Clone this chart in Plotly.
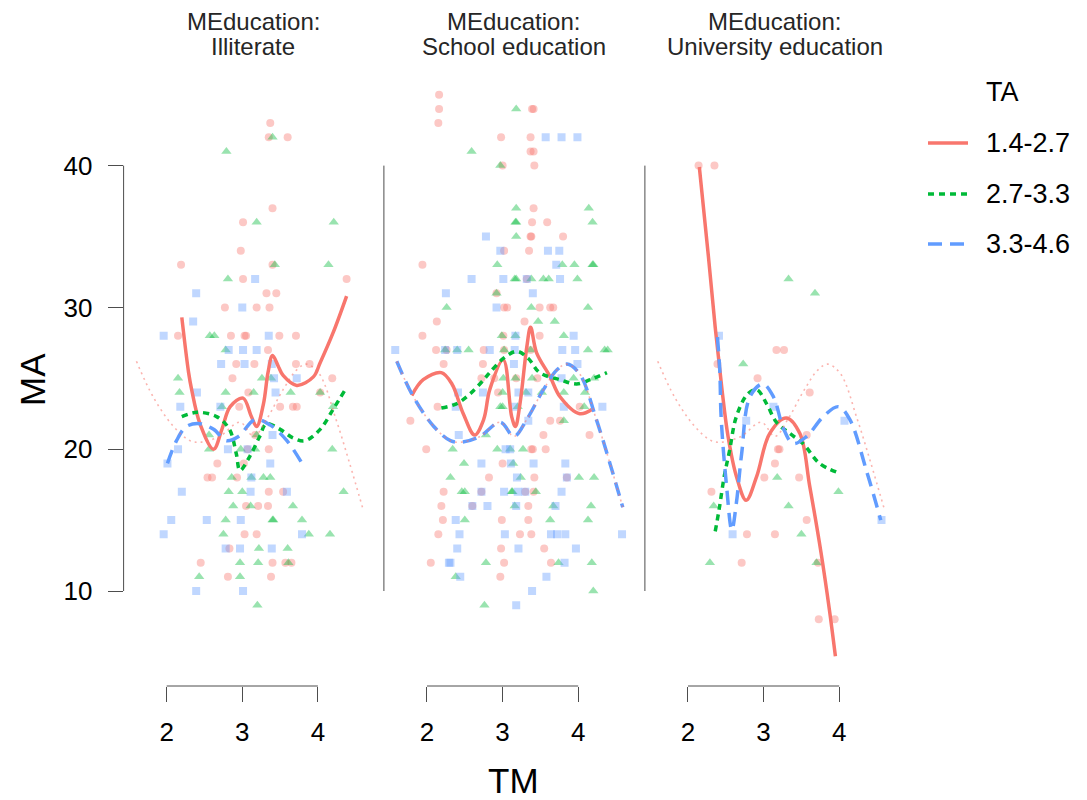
import plotly.graph_objects as go

# ---- palette -------------------------------------------------------------
RED = "#F8766D"
GREEN = "#00BA38"
BLUE = "#619CFF"

PANELS = ["Illiterate", "School education", "University education"]
TA_LEVELS = ["1.4-2.7", "2.7-3.3", "3.3-4.6"]
X_TICKS = [2, 3, 4]
Y_TICKS = [10, 20, 30, 40]

# ---- observations (TM, MA) per MEducation panel and TA class --------------
ILL_LOW = [(3.37, 43), (3.35, 42), (3.60, 42), (3.40, 37), (3.01, 36), (2.98, 34), (2.19, 33),
           (3.40, 33), (3.01, 32), (4.38, 32), (3.32, 31), (3.45, 31), (2.77, 30), (3.19, 30),
           (3.36, 30), (2.15, 28), (2.85, 28), (3.03, 28), (3.05, 28), (3.49, 28), (3.71, 28),
           (3.34, 27), (2.92, 26), (3.16, 26), (3.71, 26), (3.89, 26), (2.87, 25), (4.19, 25),
           (3.08, 24), (4.03, 24), (2.96, 23), (3.50, 23), (3.67, 23), (3.72, 23), (3.17, 21),
           (3.07, 20), (3.35, 20), (2.67, 19), (3.02, 19), (2.54, 18), (2.60, 18), (2.93, 18),
           (3.35, 17), (3.54, 17), (3.05, 16), (3.21, 16), (3.34, 16), (3.03, 14), (3.19, 14),
           (2.83, 13), (2.45, 12), (3.40, 12), (3.57, 12), (3.65, 12), (2.81, 11), (3.38, 11)]
ILL_MID = [(3.40, 42), (2.79, 41), (3.19, 36), (4.21, 36), (3.43, 33), (4.14, 33), (2.81, 32),
           (2.57, 28), (2.63, 28), (2.78, 27), (2.15, 25), (3.26, 25), (3.38, 25), (2.17, 24),
           (2.78, 24), (3.15, 24), (3.64, 24), (4.03, 24), (2.73, 23), (4.20, 23), (2.56, 21),
           (3.19, 21), (2.56, 20), (2.98, 20), (3.17, 20), (4.19, 20), (2.86, 18), (3.12, 18),
           (3.28, 18), (3.37, 18), (2.82, 17), (3.00, 17), (4.34, 17), (2.88, 16), (3.11, 16),
           (3.67, 16), (2.78, 15), (3.40, 15), (3.41, 15), (3.79, 15), (2.75, 14), (3.88, 14),
           (4.16, 14), (3.22, 13), (3.60, 13), (2.97, 12), (3.21, 12), (3.61, 12), (2.43, 11),
           (2.97, 11), (3.20, 9)]
ILL_HIGH = [(3.17, 32), (2.39, 31), (3.00, 30), (2.35, 29), (1.96, 28), (3.35, 28), (2.82, 27),
            (3.01, 27), (3.19, 27), (2.72, 26), (3.03, 26), (3.39, 26), (3.42, 25), (3.72, 25),
            (2.40, 24), (3.44, 24), (2.18, 23), (2.71, 23), (3.40, 21), (2.15, 20), (2.81, 20),
            (3.07, 20), (2.01, 19), (3.37, 19), (3.12, 18), (2.20, 17), (3.11, 17), (3.59, 17),
            (2.06, 15), (2.53, 15), (2.98, 15), (1.96, 14), (3.79, 14), (2.78, 13), (2.97, 13),
            (3.39, 13), (2.39, 10), (3.01, 10)]

SCH_LOW = [(2.16, 45), (2.16, 44), (3.39, 44), (3.41, 44), (2.15, 43), (2.98, 42), (3.37, 42),
           (3.37, 41), (3.41, 41), (3.00, 40), (3.42, 40), (3.41, 37), (3.39, 36), (3.59, 36),
           (3.37, 35), (3.38, 35), (3.80, 35), (3.02, 34), (3.35, 34), (1.94, 33), (3.32, 32),
           (2.92, 31), (3.02, 30), (3.06, 30), (3.49, 30), (3.63, 30), (3.67, 30), (2.13, 29),
           (3.29, 29), (1.94, 28), (3.01, 28), (3.49, 28), (2.12, 27), (2.26, 27), (2.75, 27),
           (3.02, 27), (3.37, 27), (2.22, 26), (2.74, 26), (2.72, 25), (2.89, 25), (3.18, 25),
           (3.46, 25), (2.94, 24), (2.14, 23), (4.02, 23), (1.78, 22), (3.63, 22), (3.76, 22),
           (3.54, 21), (4.15, 21), (1.99, 20), (3.38, 20), (3.40, 20), (3.57, 20), (3.00, 19),
           (2.82, 18), (3.42, 18), (3.85, 18), (2.22, 17), (2.72, 17), (3.30, 17), (3.41, 17),
           (2.19, 16), (2.60, 16), (3.34, 16), (2.21, 15), (2.99, 15), (3.34, 15), (2.15, 14),
           (3.23, 14), (3.38, 14), (2.98, 13), (3.55, 13), (2.05, 12), (3.02, 12), (3.64, 12),
           (2.97, 11)]
SCH_MID = [(3.18, 44), (2.59, 41), (2.97, 40), (3.18, 37), (4.14, 37), (3.17, 36), (3.18, 36),
           (4.19, 36), (3.18, 35), (2.93, 33), (3.79, 33), (3.95, 33), (4.19, 33), (4.20, 33),
           (3.16, 32), (3.18, 32), (3.38, 32), (3.54, 32), (3.61, 32), (3.99, 32), (2.92, 31),
           (2.26, 30), (3.38, 30), (4.13, 30), (3.47, 29), (3.69, 29), (2.99, 28), (3.17, 28),
           (3.81, 28), (2.24, 27), (2.40, 27), (2.55, 27), (3.02, 27), (3.37, 27), (4.13, 27),
           (4.35, 27), (4.39, 27), (3.01, 25), (3.17, 25), (3.39, 25), (3.94, 25), (4.21, 25),
           (3.00, 24), (3.31, 24), (3.52, 24), (3.81, 24), (4.09, 24), (2.97, 23), (3.00, 23),
           (3.20, 23), (4.08, 23), (3.81, 22), (2.78, 21), (2.34, 20), (2.93, 20), (3.10, 20),
           (3.27, 20), (2.49, 19), (3.14, 19), (2.31, 18), (3.24, 18), (4.01, 18), (4.21, 18),
           (2.46, 17), (2.50, 17), (3.12, 17), (3.13, 17), (3.44, 17), (3.16, 16), (3.67, 16),
           (4.17, 16), (2.50, 15), (3.63, 15), (4.13, 15), (2.78, 12), (3.74, 12), (4.18, 12),
           (2.38, 11), (4.20, 10), (2.76, 9)]
SCH_HIGH = [(3.57, 42), (3.78, 42), (3.99, 42), (2.78, 35), (2.97, 34), (3.60, 34), (3.75, 34),
            (3.71, 33), (2.59, 32), (3.01, 32), (3.32, 32), (3.76, 32), (2.25, 31), (3.40, 31),
            (2.92, 30), (3.17, 28), (3.94, 28), (1.58, 27), (2.24, 27), (2.40, 27), (2.83, 27),
            (3.16, 27), (3.79, 27), (3.96, 27), (3.15, 26), (3.99, 26), (3.78, 25), (2.41, 24),
            (2.74, 24), (3.21, 24), (3.34, 24), (2.38, 23), (3.15, 23), (3.81, 23), (4.32, 23),
            (3.34, 22), (2.42, 21), (3.04, 20), (3.10, 20), (2.72, 19), (3.11, 19), (3.41, 19),
            (3.83, 19), (3.19, 18), (3.85, 18), (2.72, 17), (3.02, 17), (3.20, 17), (3.30, 17),
            (3.78, 17), (2.60, 16), (2.80, 16), (3.18, 16), (3.70, 16), (2.38, 15), (2.43, 14),
            (3.03, 14), (3.64, 14), (3.72, 14), (3.83, 14), (4.58, 14), (2.40, 13), (3.21, 13),
            (3.97, 13), (2.29, 12), (2.31, 12), (3.82, 12), (2.44, 11), (3.58, 11), (3.39, 10),
            (3.18, 9)]

UNI_LOW = [(2.14, 40), (2.35, 40), (3.17, 27), (3.27, 27), (2.39, 26), (2.92, 25), (3.61, 24),
           (3.57, 21), (3.19, 20), (3.21, 20), (3.15, 19), (3.01, 18), (3.47, 18), (2.31, 17),
           (3.57, 15), (2.78, 14), (3.15, 14), (2.71, 12), (3.72, 12), (3.73, 8), (3.94, 8)]
UNI_MID = [(3.33, 32), (3.68, 31), (2.73, 26), (3.18, 18), (3.99, 17), (2.34, 16), (3.33, 16),
           (3.50, 14), (2.29, 12), (3.70, 12)]
UNI_HIGH = [(2.41, 28), (3.13, 23), (2.77, 22), (4.07, 22), (4.56, 15), (2.59, 14)]

# ---- smoothed fits (TM, fitted MA) ---------------------------------------
FIT_ILL_LOW = [(2.20, 29.3), (2.29, 25.4), (2.33, 24.2), (2.44, 21.8), (2.62, 20.0), (2.73, 21.4),
               (2.84, 23.0), (3.01, 23.6), (3.12, 22.3), (3.19, 21.6), (3.28, 23.2), (3.34, 25.4),
               (3.40, 26.6), (3.48, 25.8), (3.54, 25.2), (3.72, 24.5), (3.94, 25.1), (4.03, 26.1),
               (4.20, 28.2), (4.38, 30.8)]
FIT_ILL_MID = [(2.20, 22.3), (2.40, 22.6), (2.66, 22.3), (2.83, 21.4), (2.92, 19.7), (2.97, 18.5),
               (3.10, 19.5), (3.23, 20.9), (3.32, 21.8), (3.50, 21.4), (3.67, 20.8), (3.83, 20.6),
               (4.03, 21.4), (4.20, 22.8), (4.35, 24.1)]
FIT_ILL_HIGH = [(2.01, 19.0), (2.13, 20.6), (2.26, 21.6), (2.44, 21.8), (2.62, 21.4), (2.79, 20.6),
                (2.95, 20.9), (3.17, 22.1), (3.37, 21.7), (3.59, 20.6), (3.79, 19.0)]

FIT_SCH_LOW = [(1.80, 23.8), (1.95, 24.9), (2.19, 25.4), (2.33, 24.6), (2.48, 22.5), (2.63, 21.0),
               (2.75, 22.1), (2.83, 24.2), (3.01, 26.3), (3.12, 22.3), (3.17, 21.6), (3.23, 23.2),
               (3.32, 27.2), (3.37, 28.6), (3.45, 26.8), (3.63, 25.1), (3.76, 23.7), (4.02, 22.5),
               (4.18, 22.8)]
FIT_SCH_MID = [(2.19, 22.9), (2.39, 23.2), (2.57, 23.9), (2.75, 24.9), (2.83, 25.4), (3.01, 26.4),
               (3.19, 26.9), (3.34, 26.4), (3.49, 25.4), (3.76, 24.9), (3.98, 24.6), (4.16, 24.9),
               (4.38, 25.4)]
FIT_SCH_HIGH = [(1.60, 26.2), (1.82, 23.7), (2.09, 21.6), (2.31, 20.6), (2.46, 20.5), (2.70, 20.9),
                (2.97, 21.9), (3.15, 20.9), (3.32, 22.1), (3.54, 24.2), (3.72, 25.6), (3.85, 26.0),
                (4.02, 25.3), (4.24, 22.1), (4.42, 19.0), (4.59, 15.9)]

FIT_UNI_LOW = [(2.15, 39.9), (2.27, 33.6), (2.36, 28.6), (2.45, 24.2), (2.53, 20.9), (2.64, 18.1),
               (2.77, 16.4), (2.91, 18.1), (3.08, 21.1), (3.30, 22.2), (3.48, 21.1), (3.61, 17.4),
               (3.76, 12.7), (3.87, 8.7), (3.95, 5.4)]
FIT_UNI_MID = [(2.36, 14.2), (2.41, 15.7), (2.48, 18.1), (2.55, 19.9), (2.64, 22.3), (2.79, 23.9),
               (2.91, 24.2), (3.04, 23.2), (3.17, 21.9), (3.35, 21.1), (3.52, 20.4), (3.74, 19.0),
               (3.96, 18.4)]
FIT_UNI_HIGH = [(2.39, 27.9), (2.42, 25.6), (2.44, 22.1), (2.51, 17.4), (2.58, 14.3), (2.64, 16.2),
                (2.71, 19.7), (2.82, 23.7), (2.99, 24.6), (3.13, 23.7), (3.26, 21.5), (3.39, 20.4),
                (3.57, 20.9), (3.79, 22.3), (3.99, 23.0), (4.14, 22.1), (4.36, 18.5), (4.55, 15.0)]

# pooled fit over every observation, repeated in each panel
FIT_ALL = FIT_SCH_HIGH

POINTS = [[ILL_LOW, ILL_MID, ILL_HIGH],
          [SCH_LOW, SCH_MID, SCH_HIGH],
          [UNI_LOW, UNI_MID, UNI_HIGH]]
FITS = [[FIT_ILL_LOW, FIT_ILL_MID, FIT_ILL_HIGH],
        [FIT_SCH_LOW, FIT_SCH_MID, FIT_SCH_HIGH],
        [FIT_UNI_LOW, FIT_UNI_MID, FIT_UNI_HIGH]]

# ---- styling ---------------------------------------------------------------
W, H = 1087, 800
COLORS = [RED, GREEN, BLUE]
SYMBOLS = ["circle", "triangle-up", "square"]
MSIZE = [8, 9, 8]
DASHES = ["solid", "6px,5px", "14px,8px"]
FONT = "Liberation Sans, Arial, sans-serif"
AXIS_GREY = "#4d4d4d"

X_RANGE = [1.43, 4.86]
Y_RANGE = [3.30, 46.39]
PANEL_LEFT = [123.6, 383.9, 644.9]   # pixel left edge of each panel
PANEL_W = 259.3
PLOT_TOP, PLOT_BOTTOM = 75, 686

# legend block (pixels)
LEG_KEY_X0, LEG_KEY_X1, LEG_TEXT_X = 928, 968, 984
LEG_TITLE_Y, LEG_ROW_Y = 92, [143, 194, 244]


def unzip(pairs):
    return [p[0] for p in pairs], [p[1] for p in pairs]


fig = go.Figure()
axis_ids = ["x", "x2", "x3"]

for p, ax in enumerate(axis_ids):
    for g in range(3):
        xs, ys = unzip(POINTS[p][g])
        fig.add_trace(go.Scatter(
            x=xs, y=ys, mode="markers", xaxis=ax, yaxis="y",
            marker=dict(symbol=SYMBOLS[g], size=MSIZE[g], color=COLORS[g], opacity=0.4,
                        line=dict(width=0)),
            showlegend=False, hoverinfo="skip"))

for p, ax in enumerate(axis_ids):
    for g in range(3):
        xs, ys = unzip(FITS[p][g])
        fig.add_trace(go.Scatter(
            x=xs, y=ys, mode="lines", xaxis=ax, yaxis="y",
            line=dict(color=COLORS[g], width=3.5, dash=DASHES[g], shape="spline", smoothing=1.0),
            name=TA_LEVELS[g], showlegend=False, hoverinfo="skip"))
    xs, ys = unzip(FIT_ALL)
    fig.add_trace(go.Scatter(
        x=xs, y=ys, mode="lines", xaxis=ax, yaxis="y",
        line=dict(color="rgba(248,118,109,0.55)", width=1.6, dash="2px,4px",
                  shape="spline", smoothing=1.0),
        showlegend=False, hoverinfo="skip"))

layout = dict(
    width=W, height=H, margin=dict(l=0, r=0, t=0, b=0, autoexpand=False),
    paper_bgcolor="white", plot_bgcolor="white", showlegend=False,
    font=dict(family=FONT, color="black"),
    yaxis=dict(domain=[1 - PLOT_BOTTOM / H, 1 - PLOT_TOP / H], range=Y_RANGE, anchor="x",
               tickvals=Y_TICKS, ticks="outside", ticklen=15, tickwidth=1, tickcolor=AXIS_GREY,
               showgrid=False, zeroline=False, showline=False,
               tickfont=dict(size=26, family=FONT, color="black"), ticklabelstandoff=10),
    shapes=[], annotations=[],
)

for p, ax in enumerate(axis_ids):
    key = "xaxis" if p == 0 else f"xaxis{p + 1}"
    left = PANEL_LEFT[p]
    layout[key] = dict(domain=[left / W, (left + PANEL_W) / W], range=X_RANGE, anchor="y",
                       tickvals=X_TICKS, ticks="outside", ticklen=15, tickwidth=1,
                       tickcolor=AXIS_GREY, showgrid=False, zeroline=False, showline=False,
                       tickfont=dict(size=26, family=FONT, color="black"), ticklabelstandoff=8)
    # range-frame style axis lines
    layout["shapes"].append(dict(type="line", xref=f"{ax} domain", yref="y", x0=0, x1=0,
                                 y0=Y_TICKS[0], y1=Y_TICKS[-1],
                                 line=dict(color=AXIS_GREY, width=1)))
    layout["shapes"].append(dict(type="line", xref=ax, yref="y domain", x0=X_TICKS[0],
                                 x1=X_TICKS[-1], y0=0, y1=0,
                                 line=dict(color=AXIS_GREY, width=1)))
    for text, ypx in (("MEducation:", 22), (PANELS[p], 47)):
        layout["annotations"].append(dict(
            text=text, xref=f"{ax} domain", yref="paper", x=0.5, y=1 - ypx / H,
            xanchor="center", yanchor="middle", showarrow=False,
            font=dict(size=24, family=FONT, color="#262626")))

# axis titles, centred on the panel block
layout["annotations"].append(dict(text="TM", xref="paper", yref="paper", x=513 / W, y=1 - 780 / H,
                                  xanchor="center", yanchor="middle", showarrow=False,
                                  font=dict(size=35, family=FONT)))
layout["annotations"].append(dict(text="MA", xref="paper", yref="paper", x=32 / W, y=1 - 380 / H,
                                  xanchor="center", yanchor="middle", showarrow=False,
                                  textangle=-90, font=dict(size=35, family=FONT)))

# legend: title, keys and labels
layout["annotations"].append(dict(text="TA", xref="paper", yref="paper", x=LEG_TEXT_X / W,
                                  y=1 - LEG_TITLE_Y / H, xanchor="left", yanchor="middle",
                                  showarrow=False, font=dict(size=27, family=FONT)))
for g in range(3):
    yy = 1 - LEG_ROW_Y[g] / H
    layout["shapes"].append(dict(type="line", xref="paper", yref="paper",
                                 x0=LEG_KEY_X0 / W, x1=LEG_KEY_X1 / W, y0=yy, y1=yy,
                                 line=dict(color=COLORS[g], width=3.5, dash=DASHES[g])))
    layout["annotations"].append(dict(text=TA_LEVELS[g], xref="paper", yref="paper",
                                      x=LEG_TEXT_X / W, y=yy, xanchor="left", yanchor="middle",
                                      showarrow=False, font=dict(size=27, family=FONT)))

fig.update_layout(**layout)
fig.write_html("out.html")
